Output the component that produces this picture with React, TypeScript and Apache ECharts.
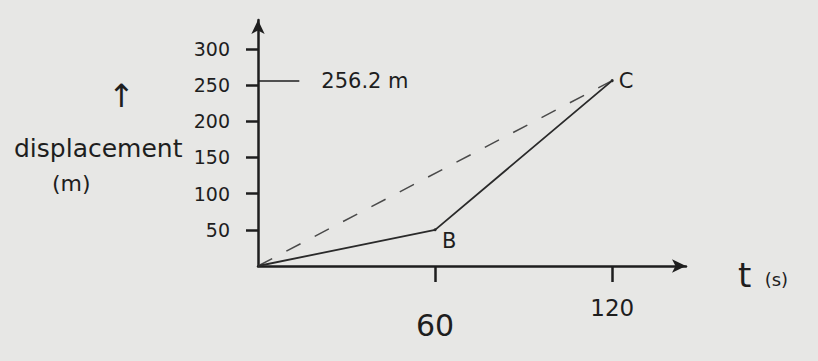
import React, { useEffect, useRef } from "react";
import * as echarts from "echarts";

// Motion of the body: time (s) against displacement (m)
const times = [0, 60, 120];
const displacement = [0, 50, 256.2];
const pointNames = ["", "B", "C"];

// Straight-line displacement from start to end
const chordTimes = [0, 120];
const chordDisplacement = [0, 256.2];
const finalDisplacementLabel = "256.2 m";

const INK = "#1e1e1e";
const FONT = "'DejaVu Sans', sans-serif";

export default function App() {
  const ref = useRef<HTMLDivElement>(null);

  useEffect(() => {
    if (!ref.current) return;
    const chart = echarts.init(ref.current, null, { renderer: "svg" });

    const pathData = times.map((t, i) => ({
      value: [t, displacement[i]],
      symbolSize: i === 0 ? 0 : 3,
      label: pointNames[i]
        ? {
            show: true,
            formatter: pointNames[i],
            position: i === 2 ? "right" : "bottom",
            offset: i === 2 ? [0, 0] : [14, -6],
            color: INK,
            fontSize: 21,
            fontFamily: FONT,
          }
        : { show: false },
    }));

    chart.setOption({
      animation: false,
      backgroundColor: "#e7e7e5",
      grid: {
        left: 258,
        right: 132,
        top: 20,
        bottom: 95,
        containLabel: false,
        outerBoundsMode: "none",
      },
      xAxis: {
        type: "value",
        min: 0,
        max: 145,
        interval: 60,
        name: "{t|t} {u|(s)}",
        nameLocation: "end",
        nameGap: 52,
        nameTextStyle: {
          rich: {
            t: { fontSize: 34, color: INK, fontFamily: FONT, padding: [18, 0, 0, 0] },
            u: { fontSize: 18, color: INK, fontFamily: FONT, padding: [26, 0, 0, 10] },
          },
        },
        axisLine: {
          show: true,
          symbol: ["none", "arrow"],
          symbolSize: [10, 14],
          lineStyle: { color: INK, width: 2.5 },
        },
        axisTick: { show: true, length: 16, lineStyle: { color: INK, width: 2.5 } },
        axisLabel: {
          showMinLabel: false,
          showMaxLabel: false,
          color: INK,
          fontFamily: FONT,
          margin: 30,
          formatter: (v: number) => (v === 60 ? `{big|${v}}` : `{mid|${v}}`),
          rich: {
            big: { fontSize: 30, color: INK, fontFamily: FONT, padding: [14, 0, 0, 0] },
            mid: { fontSize: 23, color: INK, fontFamily: FONT },
          },
        },
        splitLine: { show: false },
      },
      yAxis: {
        type: "value",
        min: 0,
        max: 340,
        interval: 50,
        axisLine: {
          show: true,
          symbol: ["none", "arrow"],
          symbolSize: [10, 14],
          lineStyle: { color: INK, width: 2.5 },
        },
        axisTick: { show: true, length: 12, lineStyle: { color: INK, width: 2.5 } },
        axisLabel: {
          showMinLabel: false,
          showMaxLabel: false,
          color: INK,
          fontSize: 19,
          fontFamily: FONT,
          margin: 28,
        },
        splitLine: { show: false },
      },
      graphic: [
        {
          type: "text",
          left: 108,
          top: 80,
          style: { text: "↑", fontSize: 32, fill: INK, fontFamily: FONT },
        },
        {
          type: "text",
          left: 14,
          top: 136,
          style: { text: "displacement", fontSize: 25, fill: INK, fontFamily: FONT },
        },
        {
          type: "text",
          left: 52,
          top: 172,
          style: { text: "(m)", fontSize: 22, fill: INK, fontFamily: FONT },
        },
      ],
      series: [
        {
          type: "line",
          data: chordTimes.map((t, i) => [t, chordDisplacement[i]]),
          symbol: "none",
          lineStyle: { color: "#4a4a4a", width: 1.5, type: [16, 16] },
          markLine: {
            silent: true,
            symbol: "none",
            lineStyle: { color: INK, width: 1.5, type: "solid" },
            label: {
              show: true,
              position: "end",
              distance: 22,
              formatter: finalDisplacementLabel,
              color: INK,
              fontSize: 21,
              fontFamily: FONT,
            },
            data: [
              [
                { coord: [0, chordDisplacement[1]] },
                { coord: [14, chordDisplacement[1]] },
              ],
            ],
          },
        },
        {
          type: "line",
          data: pathData,
          symbol: "circle",
          showSymbol: true,
          itemStyle: { color: "#2a2a2a" },
          lineStyle: { color: "#2a2a2a", width: 1.8 },
        },
      ],
    });

    return () => chart.dispose();
  }, []);

  return (
    <div
      ref={ref}
      style={{ position: "fixed", left: 0, top: 0, width: 818, height: 361 }}
    />
  );
}
